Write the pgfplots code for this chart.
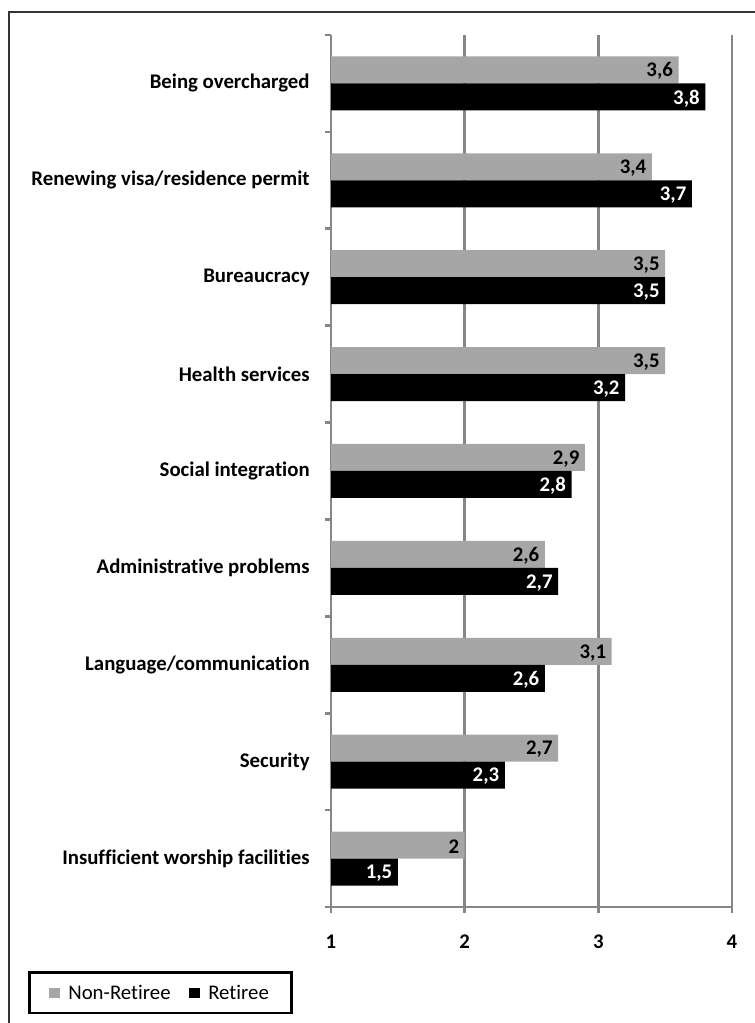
\documentclass[border=0pt]{standalone}
\usepackage{pgfplots}
\pgfplotsset{compat=1.18}
\usepackage{fontspec}
\setmainfont{Carlito}[Ligatures=NoCommon]
\definecolor{barGrey}{HTML}{A6A6A6}
\definecolor{axGrey}{HTML}{868686}
\newcommand{\fs}{\fontsize{15.6}{18}\selectfont}
\begin{document}
\begin{tikzpicture}
\useasboundingbox (0,0) rectangle (566.25pt,-767.25pt);
\draw[line width=1.8pt, black!80] (6.75pt,-767.25pt) -- (6.75pt,-9pt) -- (566.25pt,-9pt);
\begin{axis}[
  at={(248.25pt,-26.25pt)}, anchor=north west,
  scale only axis, width=300.75pt, height=654pt,
  xbar, bar width=20.25pt,
  xmin=1, xmax=4, ymin=-0.5, ymax=8.5,
  xtick={1,2,3,4},
  ytick={0,...,8},
  yticklabels={Insufficient worship facilities, Security, Language/communication, Administrative problems, Social integration, Health services, Bureaucracy, Renewing visa/residence permit, Being overcharged},
  minor ytick={-0.5,0.5,...,8.5},
  axis x line*=bottom, axis y line*=left,
  axis line style={axGrey, line width=2pt},
  xmajorgrids, major grid style={axGrey, line width=2pt},
  tick align=outside,
  major tick length=4.5pt, minor tick length=4.5pt,
  major x tick style={axGrey, line width=2pt},
  major y tick style={draw=none},
  minor y tick style={axGrey, line width=2pt},
  /pgf/number format/assume math mode=true,
  yticklabel style={font=\fs\bfseries, xshift=-8pt},
  xticklabel style={font=\fs\bfseries, yshift=-13pt},
  point meta=x,
  nodes near coords={\pgfmathprintnumber[use comma,fixed,precision=1,assume math mode=true]{\pgfplotspointmeta}},
  every node near coord/.append style={anchor=east, font=\fs\bfseries, inner sep=4pt, yshift=-1pt},
  legend entries={Non-Retiree, Retiree},
  legend style={at={(rel axis cs:-0.7556,-0.0986)}, anchor=west, legend columns=2,
    draw=black, line width=2pt, font=\fs, inner xsep=15pt, inner ysep=7pt,
    /tikz/every even column/.append style={column sep=12pt},
    /tikz/every odd column/.append style={column sep=4pt}},
  legend image code/.code={\fill[#1] (0pt,-4.1pt) rectangle (8.25pt,4.1pt);},
]
\addplot[fill=barGrey, draw=none, bar shift=10.125pt,
  every node near coord/.append style={text=black}]
  coordinates {(2,0) (2.7,1) (3.1,2) (2.6,3) (2.9,4) (3.5,5) (3.5,6) (3.4,7) (3.6,8)};
\addplot[fill=black, draw=none, bar shift=-10.125pt,
  every node near coord/.append style={text=white}]
  coordinates {(1.5,0) (2.3,1) (2.6,2) (2.7,3) (2.8,4) (3.2,5) (3.5,6) (3.7,7) (3.8,8)};
\end{axis}
\end{tikzpicture}
\end{document}
